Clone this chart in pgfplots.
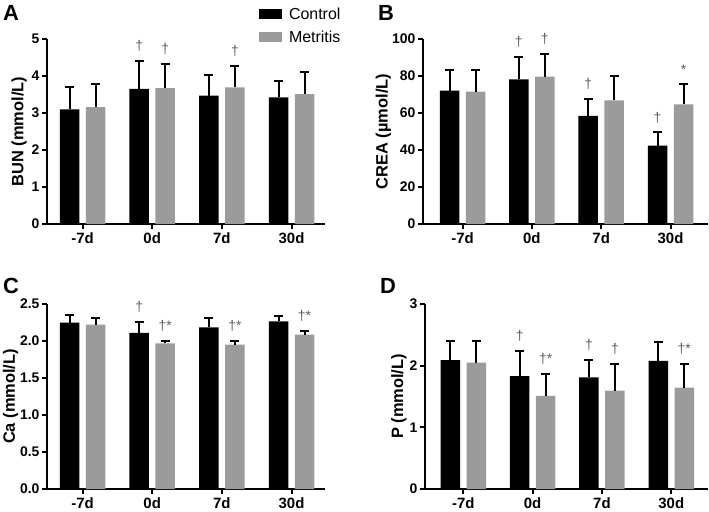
\documentclass[border=0pt]{standalone}
\usepackage{fontspec}
\setmainfont{Liberation Sans}
\usepackage{pgfplots}
\pgfplotsset{compat=1.18}
\definecolor{metgray}{HTML}{9B9B9B}
\definecolor{anngray}{HTML}{5E5E5E}

\pgfplotstableread{
x y e
0 3.10 0.61
1 3.65 0.75
2 3.47 0.56
3 3.42 0.44
}\Actrl
\pgfplotstableread{
x y e
0 3.16 0.62
1 3.67 0.66
2 3.69 0.59
3 3.51 0.59
}\Amet
\pgfplotstableread{
x y e
0 72.1 11.0
1 78.2 12.3
2 58.4 9.2
3 42.3 7.2
}\Bctrl
\pgfplotstableread{
x y e
0 71.5 11.9
1 79.6 12.3
2 66.8 13.2
3 64.7 10.8
}\Bmet
\pgfplotstableread{
x y e
0 2.248 0.108
1 2.110 0.150
2 2.185 0.121
3 2.266 0.067
}\Cctrl
\pgfplotstableread{
x y e
0 2.220 0.090
1 1.968 0.037
2 1.950 0.045
3 2.086 0.054
}\Cmet
\pgfplotstableread{
x y e
0 2.090 0.315
1 1.830 0.410
2 1.810 0.290
3 2.076 0.304
}\Dctrl
\pgfplotstableread{
x y e
0 2.050 0.355
1 1.510 0.355
2 1.595 0.435
3 1.643 0.387
}\Dmet

\pgfplotsset{
  panel/.style={
    scale only axis,
    anchor=south west,
    axis x line*=bottom, axis y line*=left,
    axis line style={-, line width=2bp, black},
    xtick pos=bottom, ytick pos=left,
    ymin=0,
    xtick={0,1,2,3}, xticklabels={-7d,0d,7d,30d},
    tick align=outside,
    major tick length=5bp,
    tick style={line width=2bp, black},
    xticklabel style={font=\bfseries\fontsize{15}{15}\selectfont},
    yticklabel style={font=\bfseries\fontsize{14}{14}\selectfont, xshift=1bp},
    /pgf/number format/assume math mode=true,
    ylabel style={font=\bfseries\fontsize{16.5}{16.5}\selectfont, anchor=center},
    ybar, bar width=19.5bp,
    clip=false,
  },
  ctrl/.style={fill=black, draw=none, bar shift=-13bp,
    legend image code/.code={\fill[black] (0bp,-5bp) rectangle (23bp,5bp);},
    error bars/.cd, y dir=plus, y explicit,
    error bar style={line width=2bp, draw=black, solid},
    error mark options={rotate=90, mark size=4.5bp, line width=2bp, draw=black, solid}},
  met/.style={fill=metgray, draw=none, bar shift=13bp,
    legend image code/.code={\fill[metgray] (0bp,-5bp) rectangle (23bp,5bp);},
    error bars/.cd, y dir=plus, y explicit,
    error bar style={line width=2bp, draw=black, solid},
    error mark options={rotate=90, mark size=4.5bp, line width=2bp, draw=black, solid}},
}
\newcommand{\ann}[4]{\node[font=\fontsize{14}{14}\selectfont, text=anngray, xshift=#2, yshift=15bp, inner sep=0pt] at (axis cs:#1,#3) {#4};}
\newcommand{\plab}[3]{\node[anchor=north west, inner sep=0pt, font=\bfseries\fontsize{22}{22}\selectfont] at (#1bp,-#2bp) {#3};}

\begin{document}
\begin{tikzpicture}
\useasboundingbox (0,0) rectangle (709bp,-512bp);

% Panel A
\begin{axis}[panel, at={(47bp,-224bp)}, width=278bp, height=185bp,
  xmin=-0.51, xmax=3.48, ymax=5, ytick={0,1,2,3,4,5},
  ylabel={BUN (mmol/L)}, ylabel style={at={(axis description cs:-0.10,0.5)}},
  legend style={at={(axis description cs:0.762,1.18)}, anchor=north west, draw=none, fill=none,
    font=\fontsize{16}{16}\selectfont, row sep=6bp, inner sep=0pt, cells={anchor=west},
    /tikz/every odd column/.append style={column sep=5bp}},
]
\addplot[ctrl] table[x=x, y=y, y error=e] {\Actrl};
\addlegendentry{Control}
\addplot[met] table[x=x, y=y, y error=e] {\Amet};
\addlegendentry{Metritis}
\ann{1}{-13bp}{4.40}{†}
\ann{1}{13bp}{4.33}{†}
\ann{2}{13bp}{4.28}{†}
\end{axis}

% Panel B
\begin{axis}[panel, at={(423bp,-224bp)}, width=285bp, height=185bp,
  xmin=-0.57, xmax=3.54, ymax=100, ytick={0,20,40,60,80,100},
  ylabel={CREA (µmol/L)}, ylabel style={at={(axis description cs:-0.139,0.5)}},
]
\addplot[ctrl] table[x=x, y=y, y error=e] {\Bctrl};
\addplot[met] table[x=x, y=y, y error=e] {\Bmet};
\ann{1}{-13bp}{90.5}{†}
\ann{1}{13bp}{91.9}{†}
\ann{2}{-13bp}{67.6}{†}
\ann{3}{-13bp}{49.5}{†}
\ann{3}{13bp}{75.5}{*}
\end{axis}

% Panel C
\begin{axis}[panel, at={(47bp,-489bp)}, width=278bp, height=185bp,
  xmin=-0.51, xmax=3.48, ymax=2.5, ytick={0,0.5,1,1.5,2,2.5},
  yticklabel style={/pgf/number format/.cd, fixed, fixed zerofill, precision=1},
  ylabel={Ca (mmol/L)}, ylabel style={at={(axis description cs:-0.131,0.5)}},
]
\addplot[ctrl] table[x=x, y=y, y error=e] {\Cctrl};
\addplot[met] table[x=x, y=y, y error=e] {\Cmet};
\ann{1}{-13bp}{2.26}{†}
\ann{1}{13bp}{2.005}{†*}
\ann{2}{13bp}{1.995}{†*}
\ann{3}{13bp}{2.14}{†*}
\end{axis}

% Panel D
\begin{axis}[panel, at={(425bp,-489bp)}, width=283bp, height=185bp,
  xmin=-0.553, xmax=3.53, ymax=3, ytick={0,1,2,3},
  ylabel={P (mmol/L)}, ylabel style={at={(axis description cs:-0.092,0.5)}},
]
\addplot[ctrl] table[x=x, y=y, y error=e] {\Dctrl};
\addplot[met] table[x=x, y=y, y error=e] {\Dmet};
\ann{1}{-13bp}{2.24}{†}
\ann{1}{13bp}{1.865}{†*}
\ann{2}{-13bp}{2.10}{†}
\ann{2}{13bp}{2.03}{†}
\ann{3}{13bp}{2.03}{†*}
\end{axis}

\plab{3}{5}{A}
\plab{378}{5}{B}
\plab{3}{278}{C}
\plab{380}{278}{D}
\end{tikzpicture}
\end{document}
